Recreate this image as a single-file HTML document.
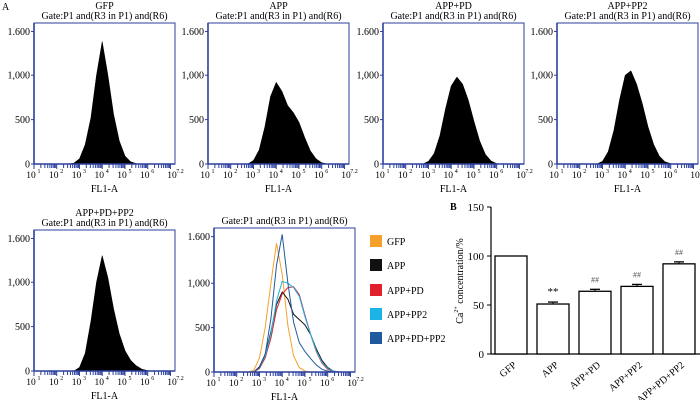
<!DOCTYPE html>
<html><head><meta charset="utf-8"><style>
body{margin:0;background:#fff}
svg{display:block;font-family:"Liberation Serif",serif}
</style></head><body>
<svg id="fig" width="700" height="400" viewBox="0 0 700 400"></svg>
<script>
// log10 positions for histogram samples
const logs=[2.5,2.75,3,3.25,3.5,3.75,4,4.25,4.5,4.75,5,5.25,5.5,5.75,6,6.25,6.5];
const gfpCounts=[0,10,60,220,520,1000,1380,1000,560,260,90,25,5,0,0,0,0];
const appCounts=[0,0,40,160,420,760,920,820,660,580,470,300,150,60,15,0,0];
const appPdCounts=[0,0,30,120,320,620,880,980,900,720,480,260,110,35,5,0,0];
const appPp2Counts=[0,0,30,140,380,720,1000,1050,900,680,420,220,90,25,5,0,0];
const appPdPp2Counts=[0,0,40,200,560,1000,1300,1050,700,420,230,120,60,20,5,0,0];
// overlay panel series
const ovGfp=[0,20,160,500,1000,1450,1100,520,180,50,10,0,0,0,0,0,0];
const ovApp=[0,0,60,200,450,760,900,820,650,590,530,420,260,130,50,10,0];
const ovPd=[0,0,40,160,380,700,880,950,960,870,640,420,230,100,30,5,0];
const ovPp2=[0,0,50,180,430,800,1020,1000,950,850,620,420,240,110,40,10,0];
const ovPdPp2=[0,0,50,200,600,1200,1550,1000,560,330,230,150,80,30,10,0];
const yTicks=[0,500,1000,1600];
const yTickLabels=["0","500","1,000","1.600"];
// bar chart
const barCats=["GFP","APP","APP+PD","APP+PP2","APP+PD+PP2"];
const barVals=[100,51,64,69,92];
const barErr=[0,2,2,2,2];
const barMarks=["","**","##","##","##"];
const barTicks=[0,50,100,150];

const NS="http://www.w3.org/2000/svg";
const svg=document.getElementById('fig');
function el(tag,attrs,parent,text){const e=document.createElementNS(NS,tag);for(const k in attrs)e.setAttribute(k,attrs[k]);if(text!==undefined)e.textContent=text;(parent||svg).appendChild(e);return e;}
const BLUE="#2b3f9e";

function panel(x0,yTop,y0,name,gate,series,colors,filled,pname){
  const g=el('g',{});
  
  
  const w=141, xr=x0+w;
  const xs=v=>x0+(v-1)/6.2*w;
  const ys=v=>y0-v*0.0888;
  if(name){const t=el('text',{x:x0+w/2,y:yTop-14,'text-anchor':'middle','font-size':10},g,name);}
  const gt=el('text',{x:x0+w/2,y:yTop-4,'text-anchor':'middle','font-size':10},g,gate);
  
  series.forEach((arr,i)=>{
    let d='M'+xs(logs[0])+','+ys(0);
    arr.forEach((v,j)=>{d+=' L'+xs(logs[j]).toFixed(1)+','+ys(v).toFixed(1);});
    if(filled){d+=' L'+xs(logs[logs.length-1])+','+ys(0)+' Z';}
    const p=el('path',{d:d,fill:filled?'#000':'none',stroke:colors[i],'stroke-width':filled?0.5:1},g);
    
    
  });
  const fr=el('rect',{x:x0,y:yTop,width:w,height:y0-yTop,fill:'none',stroke:BLUE,'stroke-width':1},g);
  
  el('line',{x1:x0,y1:yTop,x2:x0,y2:y0,stroke:BLUE,'stroke-width':1.6},g);
  el('line',{x1:x0,y1:y0,x2:xr,y2:y0,stroke:BLUE,'stroke-width':1.6},g);
  yTicks.forEach((v,i)=>{
    const yy=(v===1600)?(y0-(y0-yTop)*0.94):ys(v);
    el('line',{x1:x0-3,y1:yy,x2:x0,y2:yy,stroke:BLUE},g);
    const t=el('text',{x:x0-4,y:yy+3.5,'text-anchor':'end','font-size':10},g,yTickLabels[i]);
    
  });
  for(let dcd=1;dcd<7.2;dcd++){
    for(let m=1;m<10;m++){
      const lv=dcd+Math.log10(m); if(lv>7.2)break;
      const xx=xs(lv);
      el('line',{x1:xx,y1:y0,x2:xx,y2:y0+(m===1?5:4),stroke:BLUE,'stroke-width':1},g);
    }
  }
  const labs=[1,2,3,4,5,6,7.2];
  labs.forEach(l=>{
    const t=el('text',{x:xs(l)-3,y:y0+14,'text-anchor':'middle','font-size':9.5},g,'10');
    
    el('text',{x:xs(l)+5,y:y0+9,'text-anchor':'middle','font-size':6},g,String(l));
  });
  const xl=el('text',{x:x0+w/2,y:y0+28,'text-anchor':'middle','font-size':10},g,'FL1-A');
  
}
const gateTxt="Gate:P1 and(R3 in P1) and(R6)";
el('text',{x:2,y:10,'font-size':10},svg,'A');
panel(34,23,164,'GFP',gateTxt,[gfpCounts],['#000'],true,'histogram-gfp');
panel(208,23,164,'APP',gateTxt,[appCounts],['#000'],true,'histogram-app');
panel(383,23,164,'APP+PD',gateTxt,[appPdCounts],['#000'],true,'histogram-app-pd');
panel(557,23,164,'APP+PP2',gateTxt,[appPp2Counts],['#000'],true,'histogram-app-pp2');
panel(34,230,371,'APP+PD+PP2',gateTxt,[appPdPp2Counts],['#000'],true,'histogram-app-pd-pp2');
const ovColors=['#f5a02a','#111','#e0202a','#1cb4e6','#1f5a9e'];
panel(214,228,372,null,gateTxt,[ovGfp,ovApp,ovPd,ovPp2,ovPdPp2],ovColors,false,'overlay-histogram');

// legend
const legNames=["GFP","APP","APP+PD","APP+PP2","APP+PD+PP2"];
const legTops=[235,259,284,308,332];
legNames.forEach((n,i)=>{
  const g=el('g',{});
  
  
  const y=legTops[i];
  el('rect',{x:370,y:y,width:12,height:12,fill:ovColors[i]},g);
  el('text',{x:387,y:y+10,'font-size':10},g,n);
});

// bar chart
const bx0=491, by0=354, bsc=(354-207)/150;
const byS=v=>by0-v*bsc;
const bg=el('g',{});


el('text',{x:450,y:210,'font-size':10,'font-weight':'bold'},bg,'B');
el('line',{x1:bx0,y1:207,x2:bx0,y2:by0,stroke:'#000','stroke-width':1.2},bg);
el('line',{x1:bx0,y1:by0,x2:700,y2:by0,stroke:'#000','stroke-width':1.2},bg);
barTicks.forEach(v=>{
  el('line',{x1:bx0-4,y1:byS(v),x2:bx0,y2:byS(v),stroke:'#000'},bg);
  const t=el('text',{x:bx0-7,y:byS(v)+4,'text-anchor':'end','font-size':11},bg,String(v));
  
});
const yt=el('text',{transform:'translate(463,281) rotate(-90)','text-anchor':'middle','font-size':10},bg);

yt.innerHTML='Ca<tspan dy="-5" font-size="6">2+</tspan><tspan dy="5"> concentration/%</tspan>';
barCats.forEach((c,i)=>{
  const cx=511+i*42, bw=32, v=barVals[i];
  const r=el('rect',{x:cx-bw/2,y:byS(v),width:bw,height:by0-byS(v),fill:'#fff',stroke:'#000','stroke-width':1.3},bg);
  
  
  if(barErr[i]>0){
    el('line',{x1:cx,y1:byS(v),x2:cx,y2:byS(v+barErr[i]),stroke:'#000'},bg);
    el('line',{x1:cx-5,y1:byS(v+barErr[i]),x2:cx+5,y2:byS(v+barErr[i]),stroke:'#000','stroke-width':1.3},bg);
  }
  if(barMarks[i]){
    const m=el('text',{x:cx,y:byS(v+barErr[i])-7,'text-anchor':'middle','font-size':barMarks[i]==='**'?11:8,fill:barMarks[i]==='**'?'#000':'#555'},bg,barMarks[i]);
    
  }
  const t=el('text',{transform:`translate(${cx+6},${by0+12}) rotate(-40)`,'text-anchor':'end','font-size':10},bg,c);
  
});
</script>
</body></html>
